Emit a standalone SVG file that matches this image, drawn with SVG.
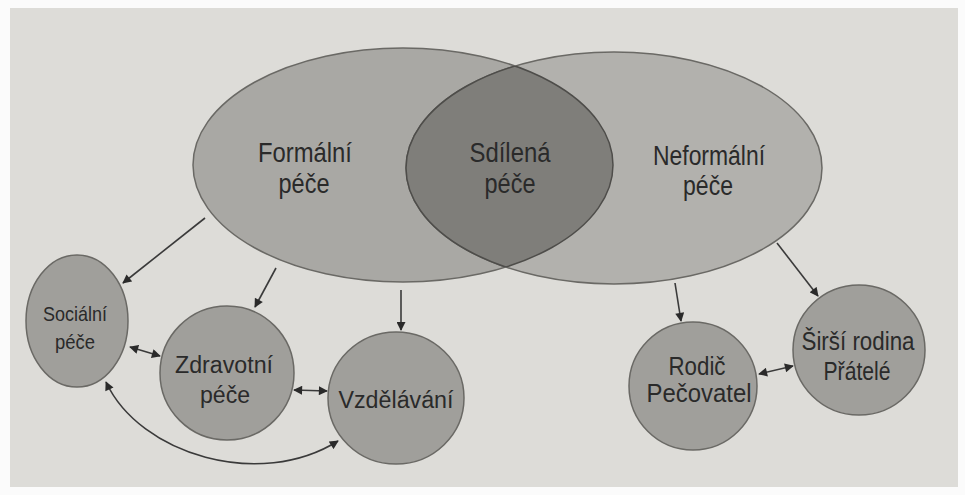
<svg xmlns="http://www.w3.org/2000/svg" width="965" height="495" viewBox="0 0 965 495">
<defs>
<style>
.big{stroke:#6a6965;stroke-width:1.5}
.node{fill:#a09f9b;stroke:#6a6965;stroke-width:1.5}
.t{font-family:"Liberation Sans",Arial,sans-serif;fill:#2a2a2a;text-anchor:middle}
.c{fill:none;stroke:#3a3a3a;stroke-width:1.6}
</style>
<marker id="ah" viewBox="0 0 10 10" refX="9" refY="5" markerWidth="10" markerHeight="9" orient="auto-start-reverse" markerUnits="userSpaceOnUse">
<path d="M0,0 L10,5 L0,10 z" fill="#2a2a2a"/>
</marker>
<clipPath id="clipL"><ellipse cx="403" cy="165" rx="210" ry="117"/></clipPath>
<clipPath id="clipR"><ellipse cx="614" cy="168" rx="208" ry="116"/></clipPath>
</defs>
<rect width="965" height="495" fill="#fbfbfb"/>
<rect x="10" y="8" width="948" height="479" fill="#dddcd8"/>
<g id="formalni">
<ellipse class="big" cx="403" cy="165" rx="210" ry="117" fill="#a9a8a4"/>
<text class="t" x="305" y="162" font-size="27" textLength="94" lengthAdjust="spacingAndGlyphs">Formální</text>
<text class="t" x="304" y="193" font-size="27" textLength="51" lengthAdjust="spacingAndGlyphs">péče</text>
</g>
<g id="neformalni">
<ellipse class="big" cx="614" cy="168" rx="208" ry="116" fill="#b2b1ad"/>
<text class="t" x="709" y="165" font-size="27" textLength="112" lengthAdjust="spacingAndGlyphs">Neformální</text>
<text class="t" x="708" y="195" font-size="27" textLength="50" lengthAdjust="spacingAndGlyphs">péče</text>
</g>
<g id="sdilena">
<ellipse cx="614" cy="168" rx="208" ry="116" fill="#7f7e7a" clip-path="url(#clipL)"/>
<ellipse cx="403" cy="165" rx="210" ry="117" fill="none" stroke="#4e4d4a" stroke-width="1.5" clip-path="url(#clipR)"/>
<ellipse cx="614" cy="168" rx="208" ry="116" fill="none" stroke="#4e4d4a" stroke-width="1.5" clip-path="url(#clipL)"/>
<text class="t" x="510" y="162" font-size="27" textLength="81" lengthAdjust="spacingAndGlyphs">Sdílená</text>
<text class="t" x="510" y="193" font-size="27" textLength="51" lengthAdjust="spacingAndGlyphs">péče</text>
</g>

<g id="socialni">
<ellipse class="node" cx="77" cy="321" rx="51" ry="66"/>
<text class="t" x="75" y="321" font-size="21" textLength="64" lengthAdjust="spacingAndGlyphs">Sociální</text>
<text class="t" x="75" y="349" font-size="21" textLength="40" lengthAdjust="spacingAndGlyphs">péče</text>
</g>
<g id="zdravotni">
<ellipse class="node" cx="227" cy="373" rx="67" ry="67"/>
<text class="t" x="224" y="373" font-size="23" textLength="98" lengthAdjust="spacingAndGlyphs">Zdravotní</text>
<text class="t" x="225" y="403" font-size="23" textLength="50" lengthAdjust="spacingAndGlyphs">péče</text>
</g>
<g id="vzdelavani">
<ellipse class="node" cx="396" cy="398" rx="68" ry="66"/>
<text class="t" x="396" y="408" font-size="23" textLength="115" lengthAdjust="spacingAndGlyphs">Vzdělávání</text>
</g>
<g id="rodic">
<ellipse class="node" cx="693" cy="386" rx="64" ry="64"/>
<text class="t" x="697" y="375" font-size="25" textLength="57" lengthAdjust="spacingAndGlyphs">Rodič</text>
<text class="t" x="699" y="402" font-size="25" textLength="105" lengthAdjust="spacingAndGlyphs">Pečovatel</text>
</g>
<g id="sirsi">
<ellipse class="node" cx="859" cy="350" rx="66" ry="65"/>
<text class="t" x="858" y="350" font-size="25" textLength="113" lengthAdjust="spacingAndGlyphs">Širší rodina</text>
<text class="t" x="857" y="380" font-size="25" textLength="67" lengthAdjust="spacingAndGlyphs">Přátelé</text>
</g>

<g id="connectors">
<line class="c" x1="205" y1="218" x2="123" y2="283" marker-end="url(#ah)"/>
<line class="c" x1="276" y1="268" x2="255" y2="307" marker-end="url(#ah)"/>
<line class="c" x1="401" y1="290" x2="401" y2="330" marker-end="url(#ah)"/>
<line class="c" x1="675" y1="283" x2="681" y2="321" marker-end="url(#ah)"/>
<line class="c" x1="777" y1="243" x2="818" y2="296" marker-end="url(#ah)"/>
<line class="c" x1="130" y1="347" x2="160" y2="356" marker-start="url(#ah)" marker-end="url(#ah)"/>
<line class="c" x1="294" y1="390" x2="327" y2="391" marker-start="url(#ah)" marker-end="url(#ah)"/>
<line class="c" x1="759" y1="374" x2="793" y2="366" marker-start="url(#ah)" marker-end="url(#ah)"/>
<path class="c" d="M106,382 C140,455 260,490 338,441" marker-start="url(#ah)" marker-end="url(#ah)"/>
</g>
</svg>
